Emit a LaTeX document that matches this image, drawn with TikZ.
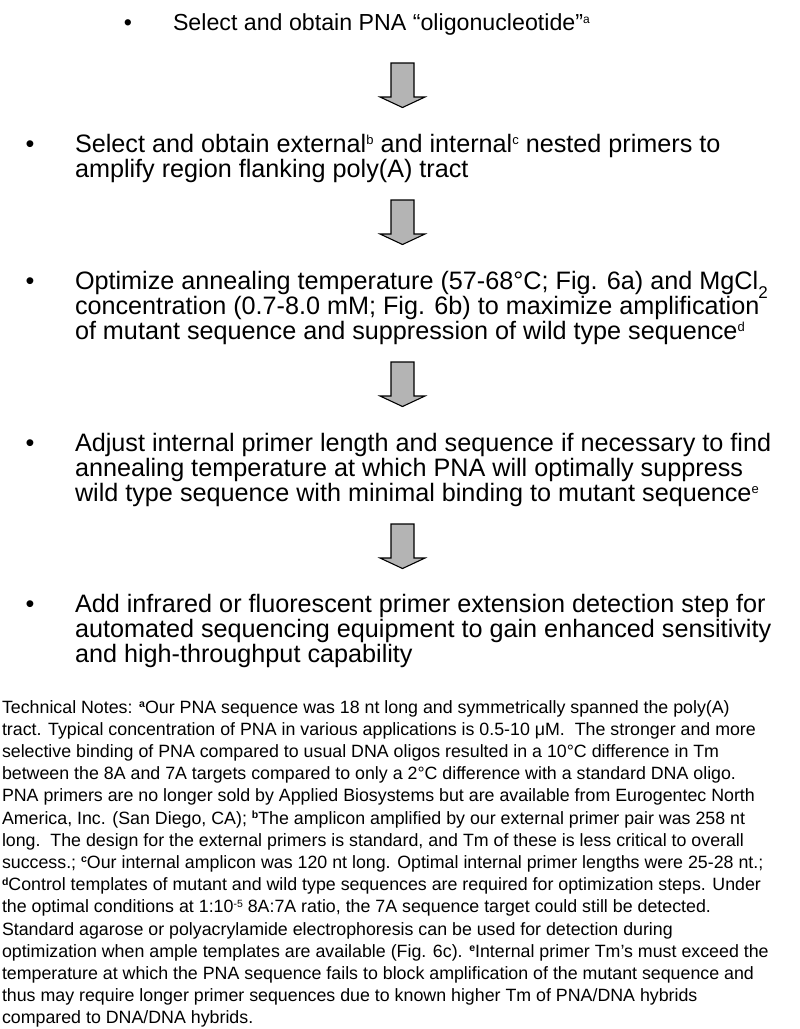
\documentclass[tikz,border=0pt]{standalone}
\usepackage{fontspec}
\setmainfont{Liberation Sans}
\newcommand\stepsup[1]{\raisebox{7.5pt}{\fontsize{13}{13}\selectfont #1}}
\newcommand\notesup[1]{\raisebox{5.5pt}{\fontsize{10.5}{10.5}\selectfont\bfseries #1}}
\newcommand\notesupn[1]{\raisebox{5.5pt}{\fontsize{10.5}{10.5}\selectfont #1}}
\begin{document}
\begin{tikzpicture}[x=1pt,y=-1pt,
  every node/.style={inner sep=0pt,outer sep=0pt},
  titlefont/.style={font=\fontsize{23.2}{25}\selectfont},
  stepfont/.style={font=\fontsize{25.2}{25}\selectfont},
  notefont/.style={font=\fontsize{17.8}{22}\selectfont},
  txt/.style={anchor=base west},
  bul/.style={anchor=base},
  blockarrow/.style={draw=black,line width=1.1pt,fill=arrowgray,line join=miter},
  downarrow/.pic={\path[blockarrow] (-11.5,0) -- (11.5,0) -- (11.5,34) -- (22.5,34) -- (0,44.5) -- (-22.5,34) -- (-11.5,34) -- cycle;}
]
\definecolor{arrowgray}{HTML}{B4B4B4}
\useasboundingbox (0,0) rectangle (800,1029);
\fill[white] (0,0) rectangle (800,1029);

% step 1
\node[titlefont,bul] (b1) at (128,30) {•};
\node[titlefont,txt] (s1) at (173,30) {Select and obtain PNA “oligonucleotide”\raisebox{7pt}{\fontsize{12}{12}\selectfont a}};
\pic at (402.5,63) {downarrow};

% step 2
\node[stepfont,bul] (b2) at (30,152) {•};
\node[stepfont,txt] (s2a) at (75,152) {Select and obtain external\stepsup{b} and internal\stepsup{c} nested primers to};
\node[stepfont,txt] (s2b) at (75,177) {amplify region flanking poly(A) tract};
\pic at (402.5,200) {downarrow};

% step 3
\node[stepfont,bul] (b3) at (30,289) {•};
\node[stepfont,txt] (s3a) at (75,289) {Optimize annealing temperature (57-68°C; Fig. 6a) and MgCl\raisebox{-0.36em}{\fontsize{17}{17}\selectfont 2}};
\node[stepfont,txt] (s3b) at (75,314) {concentration (0.7-8.0 mM; Fig. 6b) to maximize amplification};
\node[stepfont,txt] (s3c) at (75,339) {of mutant sequence and suppression of wild type sequence\stepsup{d}};
\pic at (402.5,362) {downarrow};

% step 4
\node[stepfont,bul] (b4) at (30,451) {•};
\node[stepfont,txt] (s4a) at (75,451) {Adjust internal primer length and sequence if necessary to find};
\node[stepfont,txt] (s4b) at (75,476) {annealing temperature at which PNA will optimally suppress};
\node[stepfont,txt] (s4c) at (75,501) {wild type sequence with minimal binding to mutant sequence\stepsup{e}};
\pic at (402.5,524) {downarrow};

% step 5
\node[stepfont,bul] (b5) at (30,612) {•};
\node[stepfont,txt] (s5a) at (75,612) {Add infrared or fluorescent primer extension detection step for};
\node[stepfont,txt] (s5b) at (75,637) {automated sequencing equipment to gain enhanced sensitivity};
\node[stepfont,txt] (s5c) at (75,662) {and high-throughput capability};

% notes
\node[notefont,txt] (n1) at (2,713.0) {Technical Notes: \notesup{a}Our PNA sequence was 18 nt long and symmetrically spanned the poly(A)};
\node[notefont,txt] (n2) at (2,735.2) {tract. Typical concentration of PNA in various applications is 0.5-10 μM.\ \ The stronger and more};
\node[notefont,txt] (n3) at (2,757.4) {selective binding of PNA compared to usual DNA oligos resulted in a 10°C difference in Tm};
\node[notefont,txt] (n4) at (2,779.6) {between the 8A and 7A targets compared to only a 2°C difference with a standard DNA oligo.};
\node[notefont,txt] (n5) at (2,801.8) {PNA primers are no longer sold by Applied Biosystems but are available from Eurogentec North};
\node[notefont,txt] (n6) at (2,824.0) {America, Inc. (San Diego, CA); \notesup{b}The amplicon amplified by our external primer pair was 258 nt};
\node[notefont,txt] (n7) at (2,846.2) {long.\ \ The design for the external primers is standard, and Tm of these is less critical to overall};
\node[notefont,txt] (n8) at (2,868.4) {success.; \notesup{c}Our internal amplicon was 120 nt long. Optimal internal primer lengths were 25-28 nt.;};
\node[notefont,txt] (n9) at (2,890.6) {\notesup{d}Control templates of mutant and wild type sequences are required for optimization steps. Under};
\node[notefont,txt] (n10) at (2,912.8) {the optimal conditions at 1:10\notesupn{-5} 8A:7A ratio, the 7A sequence target could still be detected.};
\node[notefont,txt] (n11) at (2,935.0) {Standard agarose or polyacrylamide electrophoresis can be used for detection during};
\node[notefont,txt] (n12) at (2,957.2) {optimization when ample templates are available (Fig. 6c). \notesup{e}Internal primer Tm’s must exceed the};
\node[notefont,txt] (n13) at (2,979.4) {temperature at which the PNA sequence fails to block amplification of the mutant sequence and};
\node[notefont,txt] (n14) at (2,1001.6) {thus may require longer primer sequences due to known higher Tm of PNA/DNA hybrids};
\node[notefont,txt] (n15) at (2,1023.8) {compared to DNA/DNA hybrids.};
\end{tikzpicture}
\end{document}
